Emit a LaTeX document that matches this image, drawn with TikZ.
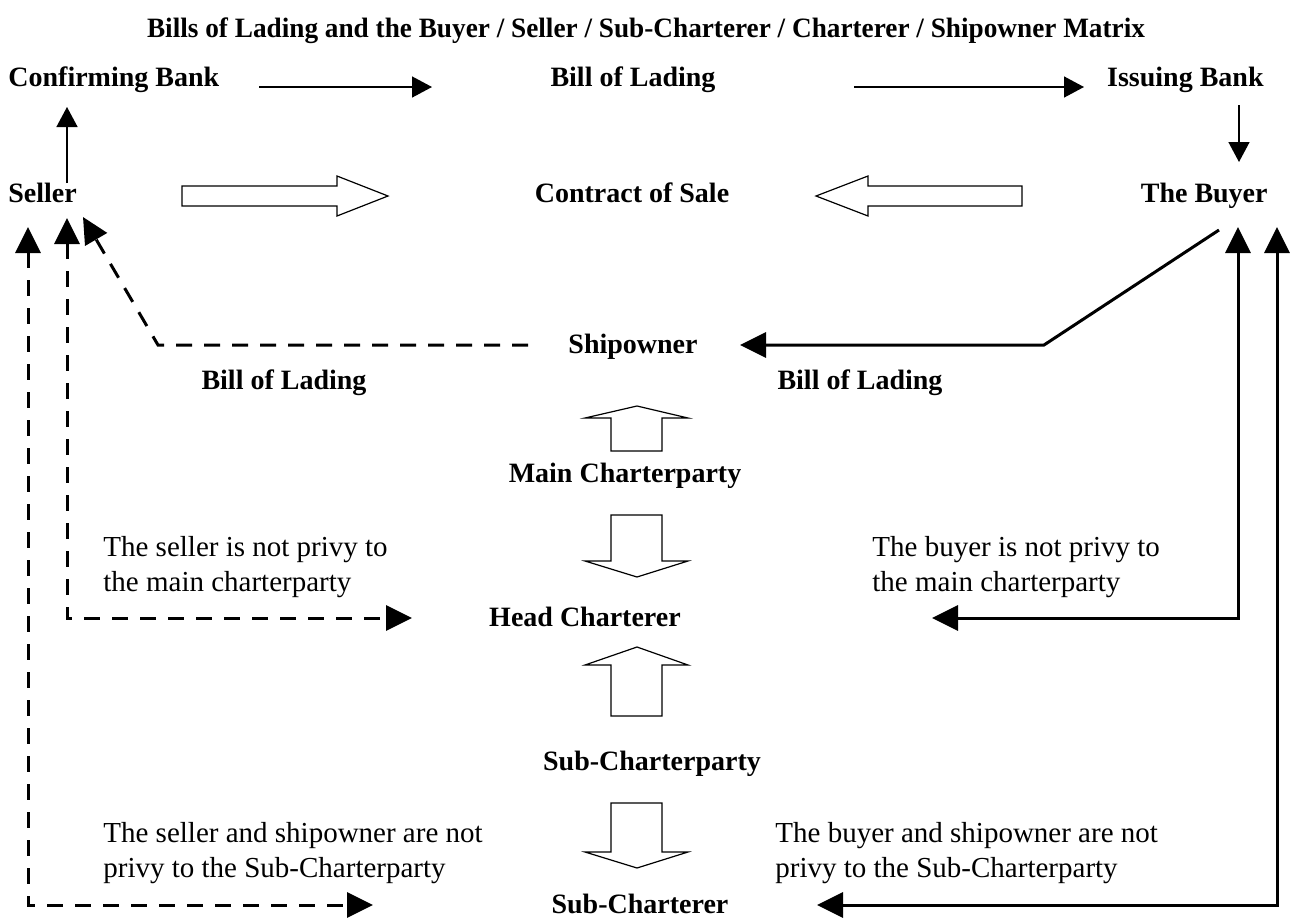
\documentclass[tikz,border=0pt]{standalone}
\usepackage{fontspec}
\setmainfont{Liberation Serif}
\usetikzlibrary{arrows.meta}

\begin{document}
\begin{tikzpicture}[x=0.5pt,y=-0.5pt,
 lbl/.style={font=\fontsize{14}{17}\selectfont\bfseries,inner sep=0pt,anchor=base},
 note/.style={font=\fontsize{14.5}{17.5}\selectfont,align=left,inner sep=0pt,anchor=west},
 thinarr/.style={line width=0.75pt,>={Triangle[length=10pt,width=10.5pt]},->},
 heavy/.style={line width=1.5pt,>={Triangle[length=13pt,width=12.5pt]}},
 heavydash/.style={heavy,dash pattern=on 8pt off 6pt},
 blockarr/.style={draw,line width=0.6pt,fill=white,line join=miter}]
 \useasboundingbox (0,0) rectangle (1292,917);
 \node[lbl] (title) at (646,37) {\scalebox{0.973}[1]{Bills of Lading and the Buyer / Seller / Sub-Charterer / Charterer / Shipowner Matrix}};
 \node[lbl,anchor=base west] (cbank) at (8,86) {Confirming Bank};
 \node[lbl] (bolTop) at (633,86) {Bill of Lading};
 \node[lbl,anchor=base east] (ibank) at (1264,86) {Issuing Bank};
 \node[lbl,anchor=base west] (seller) at (8,202) {Seller};
 \node[lbl] (sale) at (632,202) {Contract of Sale};
 \node[lbl,anchor=base east] (buyer) at (1268,202) {The Buyer};
 \node[lbl] (owner) at (633,353) {Shipowner};
 \node[lbl] (bolL) at (284,389) {Bill of Lading};
 \node[lbl] (bolR) at (860,389) {Bill of Lading};
 \node[lbl] (mainCP) at (625,482) {Main Charterparty};
 \node[lbl] (headCh) at (585,626) {Head Charterer};
 \node[lbl] (subCP) at (652,770) {Sub-Charterparty};
 \node[lbl] (subCh) at (640,913) {Sub-Charterer};
 \node[note] (sellerMain) at (103,567) {The seller is not privy to\\the main charterparty};
 \node[note] (buyerMain) at (872,567) {The buyer is not privy to\\the main charterparty};
 \node[note] (sellerSub) at (103,853) {The seller and shipowner are not\\privy to the Sub-Charterparty};
 \node[note] (buyerSub) at (775,853) {The buyer and shipowner are not\\privy to the Sub-Charterparty};
 \coordinate (sellerUp) at (67,183);
 \coordinate (cbankDown) at (67,107);
 \coordinate (cbankR) at (259,87);
 \coordinate (bolTopL) at (432,87);
 \coordinate (bolTopR) at (854,87);
 \coordinate (ibankL) at (1084,87);
 \coordinate (ibankDown) at (1239,105);
 \coordinate (buyerUp) at (1239,162);
 \coordinate (ownerL) at (528,345);
 \coordinate (ownerR) at (740,345);
 \coordinate (bolKinkL) at (158,345);
 \coordinate (bolKinkR) at (1044,345);
 \coordinate (sellerTip) at (83,217);
 \coordinate (buyerSlant) at (1219,230);
 \coordinate (sellerIn) at (67,218);
 \coordinate (sellerOut) at (28,227);
 \coordinate (buyerIn) at (1238,227);
 \coordinate (buyerOut) at (1277,227);
 \coordinate (headL) at (412,618);
 \coordinate (headR) at (932,618);
 \coordinate (subChL) at (373,905);
 \coordinate (subChR) at (817,905);
 \draw[thinarr] (sellerUp) -- (cbankDown);
 \draw[thinarr] (cbankR) -- (bolTopL);
 \draw[thinarr] (bolTopR) -- (ibankL);
 \draw[thinarr] (ibankDown) -- (buyerUp);
 \draw[blockarr] (182,186)--(337,186)--(337,176)--(388,196)--(337,216)--(337,206)--(182,206)--cycle;
 \draw[blockarr] (1022,186)--(868,186)--(868,176)--(816,196)--(868,216)--(868,206)--(1022,206)--cycle;
 \draw[blockarr] (611,451)--(611,418)--(585,418)--(637,406)--(688,418)--(662,418)--(662,451)--cycle;
 \draw[blockarr] (611,515)--(611,561)--(585,561)--(637,577)--(688,561)--(662,561)--(662,515)--cycle;
 \draw[blockarr] (611,716)--(611,665)--(585,665)--(637,647)--(688,665)--(662,665)--(662,716)--cycle;
 \draw[blockarr] (611,803)--(611,852)--(585,852)--(637,868)--(688,852)--(662,852)--(662,803)--cycle;
 \draw[heavydash,->] (ownerL) -- (bolKinkL) -- (sellerTip);
 \draw[heavy,->] (buyerSlant) -- (bolKinkR) -- (ownerR);
 \draw[heavydash,<->] (sellerIn) |- (headL);
 \draw[heavydash,<->] (sellerOut) |- (subChL);
 \draw[heavy,<->] (buyerIn) |- (headR);
 \draw[heavy,<->] (buyerOut) |- (subChR);
\end{tikzpicture}
\end{document}
